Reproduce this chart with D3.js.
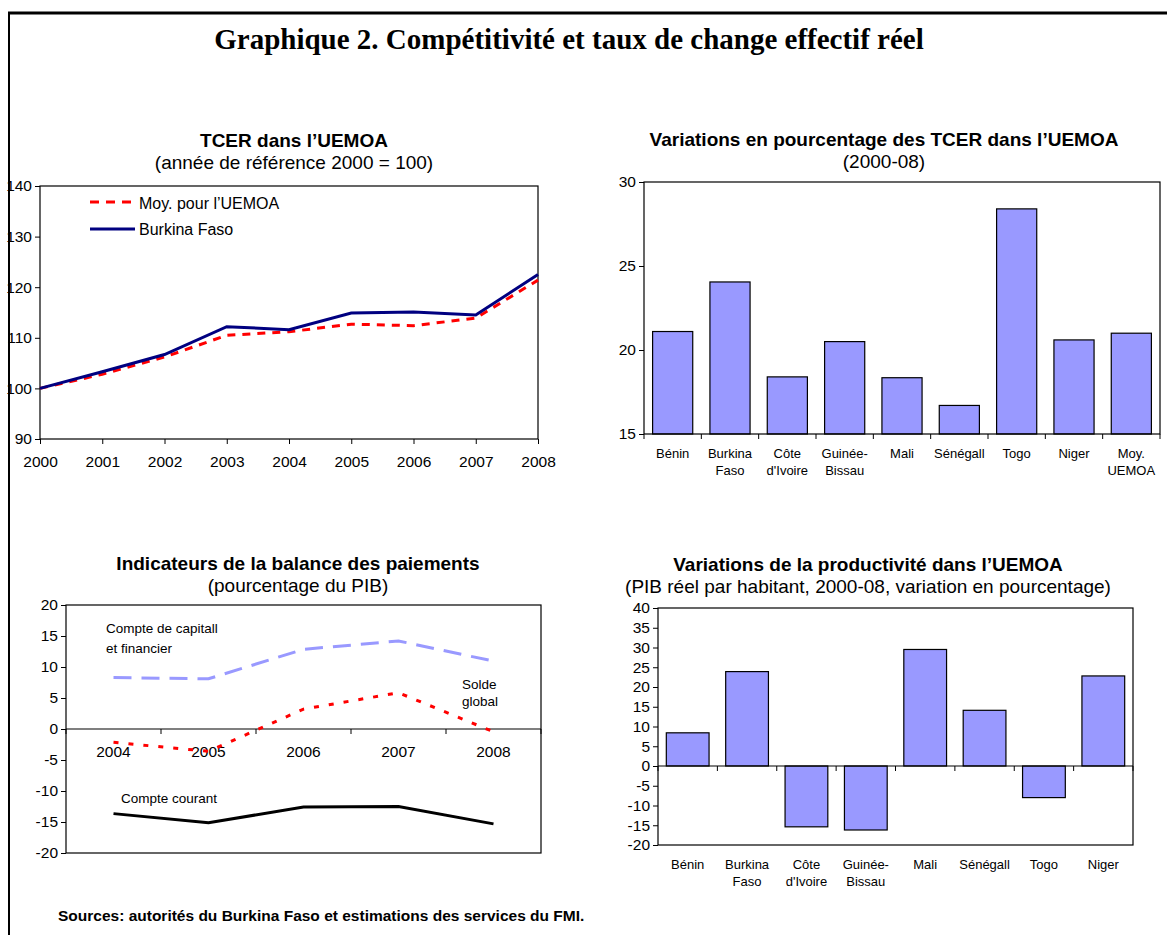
<!DOCTYPE html>
<html>
<head>
<meta charset="utf-8">
<script src="https://cdn.jsdelivr.net/npm/d3@7.9.0/dist/d3.min.js"></script>
<style>
  body { margin: 0; background: #fff; }
  svg { display: block; font-family: "Liberation Sans", Arial, sans-serif; }
  .title { font-weight: bold; font-size: 19px; }
  .subtitle { font-size: 19px; }
  .tick text { font-size: 15.5px; fill: #000; }
  .cat text { font-size: 13px; }
  .note { font-size: 13.5px; }
</style>
</head>
<body>
<div id="chart"></div>
<script>
// ---------- DATA ----------
const tcerYears = ['2000', '2001', '2002', '2003', '2004', '2005', '2006', '2007', '2008'];
const tcerBurkina = [100, 103.3, 106.7, 112.2, 111.6, 114.9, 115.1, 114.5, 122.5];
const tcerUemoa = [100, 102.8, 106.2, 110.5, 111.2, 112.7, 112.4, 113.9, 121.4];

const varCountries = ['Bénin', 'Burkina\nFaso', 'Côte\nd\'Ivoire', 'Guinée-\nBissau', 'Mali', 'Sénégall', 'Togo', 'Niger', 'Moy.\nUEMOA'];
const varValues = [21.1, 24.05, 18.4, 20.5, 18.35, 16.7, 28.4, 20.6, 21.0];

const bopYears = ['2004', '2005', '2006', '2007', '2008'];
const bopCapital = [8.3, 8.1, 12.85, 14.2, 10.95];
const bopSolde = [-2.15, -3.6, 3.2, 5.85, -0.45];
const bopCourant = [-13.65, -15.1, -12.6, -12.5, -15.3];

const prodCountries = ['Bénin', 'Burkina\nFaso', 'Côte\nd\'Ivoire', 'Guinée-\nBissau', 'Mali', 'Sénégall', 'Togo', 'Niger'];
const prodValues = [8.4, 23.9, -15.4, -16.2, 29.5, 14.1, -8.0, 22.8];

// ---------- SVG ----------
const W = 1167, H = 935;
const svg = d3.select('#chart').append('svg').attr('width', W).attr('height', H);

// frame
svg.append('line').attr('x1', 8).attr('x2', W).attr('y1', 13).attr('y2', 13)
  .attr('stroke', '#000').attr('stroke-width', 3);
svg.append('line').attr('x1', 9).attr('x2', 9).attr('y1', 12).attr('y2', H)
  .attr('stroke', '#000').attr('stroke-width', 2);

svg.append('text').attr('x', 569).attr('y', 49).attr('text-anchor', 'middle')
  .style('font-family', '"Liberation Serif", "Times New Roman", serif')
  .style('font-weight', 'bold').style('font-size', '29px')
  .text('Graphique 2. Compétitivité et taux de change effectif réel');

svg.append('text').attr('x', 58).attr('y', 921)
  .style('font-weight', 'bold').style('font-size', '15.5px')
  .text('Sources: autorités du Burkina Faso et estimations des services du FMI.');

const fmt = (d) => String(d); // plain hyphen for negatives

function titles(cx, y, t, s) {
  svg.append('text').attr('class', 'title').attr('x', cx).attr('y', y)
    .attr('text-anchor', 'middle').text(t);
  svg.append('text').attr('class', 'subtitle').attr('x', cx).attr('y', y + 22)
    .attr('text-anchor', 'middle').text(s);
}

function frame(g, x0, x1, y0, y1) {
  g.append('rect').attr('x', x0).attr('y', y0).attr('width', x1 - x0).attr('height', y1 - y0)
    .attr('fill', 'none').attr('stroke', '#000').attr('stroke-width', 1.2);
}

function yAxis(g, y, x0, ticks) {
  const ax = g.append('g').attr('transform', `translate(${x0},0)`)
    .call(d3.axisLeft(y).tickValues(ticks).tickFormat(fmt).tickSize(5).tickPadding(3));
  ax.select('.domain').remove();
  ax.selectAll('line').attr('stroke', '#000');
}

function catLabels(g, x, yPos, cats) {
  const t = g.append('g').attr('class', 'cat').selectAll('text').data(cats).join('text')
    .attr('text-anchor', 'middle')
    .attr('x', (d) => x(d) + x.bandwidth() / 2)
    .attr('y', yPos);
  t.selectAll('tspan').data((d) => d.split('\n')).join('tspan')
    .attr('x', function () { return d3.select(this.parentNode).attr('x'); })
    .attr('dy', (d, i) => (i === 0 ? 0 : 17))
    .text((d) => d);
}

function boundaryTicks(g, x, cats, yPos) {
  const xs = cats.map((c) => x(c)).concat([x(cats[cats.length - 1]) + x.step()]);
  g.append('g').selectAll('line').data(xs).join('line')
    .attr('x1', (d) => d).attr('x2', (d) => d)
    .attr('y1', yPos).attr('y2', yPos + 5).attr('stroke', '#000');
}

// ---------- TCER LINE CHART ----------
{
  const g = svg.append('g');
  const x0 = 40, x1 = 538, y0 = 186, y1 = 439;
  titles(294, 147, 'TCER dans l’UEMOA', '(année de référence 2000 = 100)');
  const x = d3.scalePoint().domain(tcerYears).range([x0, x1]);
  const y = d3.scaleLinear().domain([90, 140]).range([y1, y0]);
  frame(g, x0, x1, y0, y1);
  yAxis(g, y, x0, d3.range(90, 141, 10));
  const xa = g.append('g').attr('transform', `translate(0,${y1})`)
    .call(d3.axisBottom(x).tickSize(5).tickPadding(12));
  xa.select('.domain').remove();
  const line = d3.line().x((d, i) => x(tcerYears[i])).y((d) => y(d));
  g.append('path').datum(tcerUemoa).attr('d', line).attr('fill', 'none')
    .attr('stroke', '#ff0000').attr('stroke-width', 3).attr('stroke-dasharray', '8,7');
  g.append('path').datum(tcerBurkina).attr('d', line).attr('fill', 'none')
    .attr('stroke', '#000080').attr('stroke-width', 3);
  // legend
  g.append('line').attr('x1', 90).attr('x2', 131).attr('y1', 202).attr('y2', 202)
    .attr('stroke', '#ff0000').attr('stroke-width', 3).attr('stroke-dasharray', '9,7');
  g.append('text').attr('x', 139).attr('y', 209)
    .style('font-size', '16px').text('Moy. pour l’UEMOA');
  g.append('line').attr('x1', 90).attr('x2', 135).attr('y1', 229).attr('y2', 229)
    .attr('stroke', '#000080').attr('stroke-width', 3);
  g.append('text').attr('x', 139).attr('y', 235)
    .style('font-size', '16px').text('Burkina Faso');
}

// ---------- TCER BAR CHART ----------
{
  const g = svg.append('g');
  const x0 = 644, x1 = 1160, y0 = 182, y1 = 434;
  titles(884, 146, 'Variations en pourcentage des TCER dans l’UEMOA', '(2000-08)');
  const x = d3.scaleBand().domain(varCountries).range([x0, x1]).paddingInner(0.3).paddingOuter(0.15);
  const y = d3.scaleLinear().domain([15, 30]).range([y1, y0]);
  g.append('g').selectAll('rect').data(varValues).join('rect')
    .attr('x', (d, i) => x(varCountries[i]))
    .attr('y', (d) => y(d))
    .attr('width', x.bandwidth())
    .attr('height', (d) => y(15) - y(d))
    .attr('fill', '#9999ff').attr('stroke', '#000').attr('stroke-width', 1.2);
  frame(g, x0, x1, y0, y1);
  yAxis(g, y, x0, [15, 20, 25, 30]);
  const xb = d3.scaleBand().domain(varCountries).range([x0, x1]);
  boundaryTicks(g, xb, varCountries, y1);
  catLabels(g, xb, 458, varCountries);
}

// ---------- BALANCE OF PAYMENTS ----------
{
  const g = svg.append('g');
  const x0 = 66, x1 = 541, y0 = 605, y1 = 853;
  titles(298, 570, 'Indicateurs de la balance des paiements', '(pourcentage du PIB)');
  const x = d3.scaleBand().domain(bopYears).range([x0, x1]);
  const y = d3.scaleLinear().domain([-20, 20]).range([y1, y0]);
  frame(g, x0, x1, y0, y1);
  yAxis(g, y, x0, d3.range(-20, 21, 5));
  g.append('line').attr('x1', x0).attr('x2', x1).attr('y1', y(0)).attr('y2', y(0))
    .attr('stroke', '#000').attr('stroke-width', 1.2);
  boundaryTicks(g, x, bopYears, y(0));
  g.append('g').attr('class', 'tick').selectAll('text').data(bopYears).join('text')
    .attr('x', (d) => x(d) + x.bandwidth() / 2).attr('y', y(0) + 28)
    .attr('text-anchor', 'middle').text((d) => d);
  const line = d3.line().x((d, i) => x(bopYears[i]) + x.bandwidth() / 2).y((d) => y(d));
  g.append('path').datum(bopCapital).attr('d', line).attr('fill', 'none')
    .attr('stroke', '#9999ff').attr('stroke-width', 3).attr('stroke-dasharray', '18,10');
  g.append('path').datum(bopSolde).attr('d', line).attr('fill', 'none')
    .attr('stroke', '#ff0000').attr('stroke-width', 3).attr('stroke-dasharray', '5,10');
  g.append('path').datum(bopCourant).attr('d', line).attr('fill', 'none')
    .attr('stroke', '#000').attr('stroke-width', 3);
  g.append('text').attr('class', 'note').attr('x', 106).attr('y', 633).text('Compte de capitall');
  g.append('text').attr('class', 'note').attr('x', 106).attr('y', 653).text('et financier');
  g.append('text').attr('class', 'note').attr('x', 462).attr('y', 689).text('Solde');
  g.append('text').attr('class', 'note').attr('x', 462).attr('y', 706).text('global');
  g.append('text').attr('class', 'note').attr('x', 121).attr('y', 803).text('Compte courant');
}

// ---------- PRODUCTIVITY BAR CHART ----------
{
  const g = svg.append('g');
  const x0 = 658, x1 = 1133, y0 = 608, y1 = 845;
  titles(868, 571, 'Variations de la productivité dans l’UEMOA', '(PIB réel par habitant, 2000-08, variation en pourcentage)');
  const x = d3.scaleBand().domain(prodCountries).range([x0, x1]).paddingInner(0.28).paddingOuter(0.14);
  const y = d3.scaleLinear().domain([-20, 40]).range([y1, y0]);
  g.append('g').selectAll('rect').data(prodValues).join('rect')
    .attr('x', (d, i) => x(prodCountries[i]))
    .attr('y', (d) => y(Math.max(0, d)))
    .attr('width', x.bandwidth())
    .attr('height', (d) => Math.abs(y(d) - y(0)))
    .attr('fill', '#9999ff').attr('stroke', '#000').attr('stroke-width', 1.2);
  frame(g, x0, x1, y0, y1);
  yAxis(g, y, x0, d3.range(-20, 41, 5));
  g.append('line').attr('x1', x0).attr('x2', x1).attr('y1', y(0)).attr('y2', y(0))
    .attr('stroke', '#000').attr('stroke-width', 1.2);
  const xb = d3.scaleBand().domain(prodCountries).range([x0, x1]);
  boundaryTicks(g, xb, prodCountries, y(0));
  catLabels(g, xb, 869, prodCountries);
}
</script>
</body>
</html>
